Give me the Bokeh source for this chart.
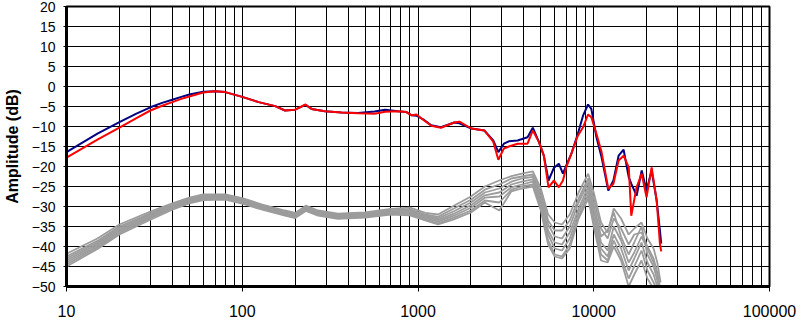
from bokeh.plotting import figure
from bokeh.models import FixedTicker, Range1d, NumeralTickFormatter
from bokeh.embed import file_html
from bokeh.resources import INLINE

# ---- data ----
freq = [10, 15, 20, 25, 30, 35, 40, 45, 50, 60, 70, 80, 100, 124, 154, 175, 200, 229, 248,
        295, 367, 456, 566, 650, 770, 860, 920, 980, 1070, 1190, 1350, 1610, 1720, 2014,
        2385, 2680, 2865, 3080, 3290, 3690, 4200, 4500, 4880, 5200, 5530, 5940, 6330, 6680,
        6970, 7460, 8120, 8690, 9280, 9690, 10360, 11080, 12100, 12940, 13850, 14790, 15820,
        16350, 17530, 18740, 19970, 21350, 22800, 23800, 24200]
blue = [-16.4, -11.8, -8.9, -6.8, -5.2, -4.1, -3.3, -2.6, -2.0, -1.3, -1.2, -1.4, -2.6, -3.9,
        -4.9, -6.0, -5.8, -4.6, -5.6, -6.2, -6.5, -6.6, -6.25, -5.8, -6.2, -6.4, -7.2, -7.3,
        -8.2, -9.7, -10.2, -9.0, -9.2, -10.5, -11.0, -13.5, -16.4, -14.3, -13.7, -13.5,
        -12.7, -10.3, -13.9, -17.3, -23.5, -20.3, -19.3, -21.8, -19.8, -16.8, -11.8, -7.3,
        -4.5, -5.6, -12.7, -17.7, -26.0, -23.5, -17.3, -15.8, -22.7, -24.3, -27.3, -21.0,
        -26.0, -21.0, -28.5, -36.0, -39.3]
red = [-17.8, -13.3, -10.3, -7.9, -6.0, -4.8, -3.9, -3.1, -2.5, -1.5, -1.2, -1.4, -2.6, -3.9,
       -4.9, -6.0, -5.8, -4.5, -5.6, -6.2, -6.5, -6.7, -6.8, -6.3, -6.2, -6.4, -7.2, -7.0,
       -8.3, -9.8, -10.3, -9.0, -8.8, -10.5, -11.0, -13.8, -18.3, -15.5, -15.0, -14.3,
       -14.3, -11.0, -13.9, -17.3, -25.2, -23.5, -25.2, -23.5, -20.2, -16.8, -12.3, -10.2,
       -7.0, -7.7, -11.8, -16.4, -25.6, -24.3, -18.5, -17.3, -20.2, -32.3, -25.2, -21.8,
       -27.7, -20.2, -28.5, -39.3, -41.2]

grey_freq = [10, 15, 20, 30, 40, 50, 60, 80, 100, 130, 175, 200, 230, 270, 350, 500, 700,
             900, 1100, 1300, 1600, 2000, 2400, 2900, 3400, 3900, 4500, 5000, 5500, 6000,
             6600, 7300, 8200, 9300, 10000, 11000, 12000, 13000, 14300, 15800, 17000, 18700,
             20200, 21900, 23000, 24000]
grey_1 = [-41.8, -38.0, -34.5, -31.3, -29.2, -27.8, -27.0, -27.0, -27.9, -29.5,
          -31.0, -31.6, -29.8, -31.0, -31.8, -31.5, -30.6, -30.3, -31.6, -32.0,
          -29.8, -27.5, -25.0, -23.5, -22.4, -21.8, -21.2, -25.5, -32.0, -34.0,
          -34.5, -32.0, -26.5, -21.8, -26.5, -34.0, -36.5, -30.5, -33.0, -37.0,
          -35.5, -34.0, -38.0, -40.5, -44.0, -49.0]
grey_2 = [-42.5, -38.6, -35.0, -31.7, -29.5, -28.1, -27.3, -27.3, -28.2, -29.8,
          -31.3, -31.9, -30.1, -31.3, -32.1, -31.8, -30.9, -30.7, -32.0, -32.6,
          -30.5, -28.3, -25.8, -24.5, -23.0, -22.5, -22.0, -26.5, -33.5, -36.0,
          -36.0, -33.5, -28.0, -23.0, -28.0, -35.5, -38.0, -33.0, -35.5, -39.5,
          -37.0, -36.5, -40.0, -43.0, -46.5, -51.0]
grey_3 = [-43.0, -39.0, -35.4, -32.0, -29.8, -28.4, -27.6, -27.5, -28.5, -30.0,
          -31.5, -32.1, -30.3, -31.5, -32.3, -32.0, -31.2, -31.0, -32.3, -33.0,
          -31.2, -29.0, -26.5, -25.5, -23.8, -23.0, -22.6, -27.5, -34.5, -37.5,
          -38.0, -35.0, -29.0, -24.0, -29.5, -37.5, -36.0, -31.5, -37.5, -42.0,
          -39.0, -35.0, -42.0, -45.0, -48.5, -52.0]
grey_4 = [-43.5, -39.4, -35.8, -32.3, -30.0, -28.6, -27.8, -27.7, -28.7, -30.2,
          -31.7, -32.3, -30.5, -31.7, -32.5, -32.2, -31.4, -31.3, -32.6, -33.4,
          -31.8, -29.7, -27.2, -26.5, -24.5, -23.8, -23.2, -28.5, -36.0, -39.0,
          -39.5, -36.5, -30.5, -25.0, -31.0, -39.0, -41.0, -35.0, -38.5, -44.0,
          -41.5, -37.5, -40.5, -44.0, -47.0, -52.0]
grey_5 = [-44.0, -39.8, -36.2, -32.6, -30.2, -28.8, -28.0, -27.9, -28.9, -30.4,
          -31.9, -32.5, -30.7, -31.9, -32.7, -32.4, -31.6, -31.6, -32.9, -33.8,
          -32.3, -30.3, -27.8, -27.5, -25.2, -24.5, -23.8, -29.5, -37.0, -40.5,
          -41.0, -38.0, -31.5, -26.0, -32.5, -40.5, -42.5, -37.0, -40.5, -46.0,
          -43.0, -39.0, -44.0, -47.0, -50.0, -53.0]
grey_6 = [-44.5, -40.2, -36.6, -32.9, -30.5, -29.0, -28.2, -28.1, -29.1, -30.6,
          -32.1, -32.7, -30.9, -32.1, -32.9, -32.6, -31.8, -31.9, -33.2, -34.2,
          -32.8, -31.0, -28.5, -29.0, -25.8, -25.0, -24.5, -30.5, -38.5, -42.0,
          -42.5, -39.5, -32.5, -27.0, -34.0, -42.0, -43.5, -38.5, -42.5, -48.0,
          -45.0, -41.0, -46.0, -49.0, -51.0, -53.0]
grey_7 = [-45.0, -40.6, -37.0, -33.3, -30.8, -29.2, -28.4, -28.3, -29.3, -30.8,
          -32.3, -32.9, -31.1, -32.3, -33.1, -32.8, -32.0, -32.2, -33.5, -34.5,
          -33.2, -31.5, -29.0, -31.0, -26.2, -25.5, -25.0, -31.0, -39.5, -42.5,
          -43.0, -40.5, -33.0, -28.0, -35.0, -43.5, -44.0, -40.0, -43.5, -50.0,
          -47.0, -43.5, -48.0, -50.5, -52.0, -54.0]
grey_lines = [grey_1, grey_2, grey_3, grey_4, grey_5, grey_6, grey_7]

x_major = [10, 100, 1000, 10000, 100000]
x_minor = [m * d for d in [10, 100, 1000, 10000] for m in range(2, 10)]
y_ticks = [-50, -45, -40, -35, -30, -25, -20, -15, -10, -5, 0, 5, 10, 15, 20]

FONT = "Liberation Sans"

p = figure(width=801, height=329, x_axis_type="log",
           x_range=Range1d(10, 100000), y_range=Range1d(-50, 20),
           output_backend="svg", toolbar_location=None,
           min_border_top=6, min_border_right=32, min_border_bottom=43, min_border_left=64)
p.background_fill_color = "white"
p.border_fill_color = "white"
p.outline_line_color = "black"
p.outline_line_width = 2
p.outline_line_alpha = 1

for g in grey_lines:
    p.line(grey_freq, g, line_color="#9c9c9c", line_width=1.8)
p.line(freq, blue, line_color="#000080", line_width=2)
p.line(freq, red, line_color="#ff0000", line_width=2)

p.xaxis.ticker = FixedTicker(ticks=x_major, minor_ticks=x_minor)
p.yaxis.ticker = FixedTicker(ticks=y_ticks)
p.xaxis.formatter = NumeralTickFormatter(format="0")

p.xgrid.grid_line_color = "black"
p.xgrid.minor_grid_line_color = "black"
p.ygrid.grid_line_color = "black"
p.xgrid.grid_line_width = 1
p.ygrid.grid_line_width = 1

for ax in (p.xaxis[0], p.yaxis[0]):
    ax.axis_line_color = "black"
    ax.axis_line_width = 3
    ax.major_tick_line_color = "black"
    ax.major_tick_in = 0
    ax.minor_tick_line_color = None
    ax.major_label_text_font = FONT
    ax.major_label_text_color = "black"

p.xaxis.major_tick_out = 5
p.xaxis.major_label_text_font_size = "16px"
p.xaxis.major_label_standoff = 13
p.yaxis.major_tick_out = 3
p.yaxis.major_label_text_font_size = "14px"
p.yaxis.major_label_standoff = 8

p.yaxis.axis_label = "Amplitude (dB)"
p.yaxis.axis_label_text_font = FONT
p.yaxis.axis_label_text_font_style = "bold"
p.yaxis.axis_label_text_font_size = "16px"
p.yaxis.axis_label_text_color = "black"
p.yaxis.axis_label_standoff = 8

open("out.html", "w").write(file_html(p, INLINE))
